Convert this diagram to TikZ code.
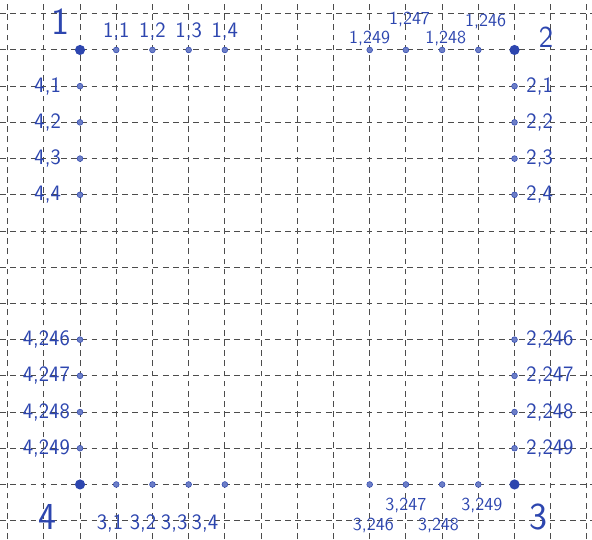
\documentclass[tikz,border=0pt]{standalone}
\usepackage{tikz}
\usetikzlibrary{positioning}
\definecolor{ink}{RGB}{45,70,175}

\begin{document}
\begin{tikzpicture}[
  gridline/.style={draw=black!70, line width=0.8pt, dash pattern=on 4.5pt off 3.5pt},
  corner/.style={circle, fill=ink, minimum size=2.8mm, inner sep=0pt},
  tick/.style={circle, draw=ink, fill=ink!70, minimum size=1.6mm, inner sep=0pt},
  lab/.style={text=ink, font={\sffamily\LARGE}, inner sep=1pt},
  smalllab/.style={text=ink, font={\sffamily\Large}, inner sep=1pt},
  biglab/.style={text=ink, font={\sffamily\fontsize{30}{32}\selectfont}, inner sep=0pt}
]
\useasboundingbox[fill=white] (-2.21,-13.51) rectangle (14.14,1.38);
\draw[gridline, step=1] (-2.21,-13.51) grid (14.14,1.38);
% corners
\node[corner] (c1) at (0,0) {};
\node[corner] (c2) at (12,0) {};
\node[corner] (c3) at (12,-12) {};
\node[corner] (c4) at (0,-12) {};
\node[biglab] at (-0.55,0.77) {1};
\node[biglab, font={\sffamily\fontsize{24}{26}\selectfont}] at (12.87,0.36) {2};
\node[biglab] at (12.65,-12.9) {3};
\node[biglab] at (-0.9,-12.9) {4};
% side 1
\node[tick] (p11) at (1,0) {};
\node[tick] (p12) at (2,0) {};
\node[tick] (p13) at (3,0) {};
\node[tick] (p14) at (4,0) {};
\node[lab, above=1.5mm of p11] {1,1};
\node[lab, above=1.5mm of p12] {1,2};
\node[lab, above=1.5mm of p13] {1,3};
\node[lab, above=1.5mm of p14] {1,4};
\node[tick] (p1249) at (8,0) {};
\node[tick] (p1247) at (9,0) {};
\node[tick] (p1248) at (10,0) {};
\node[tick] (p1246) at (11,0) {};
\node[smalllab] at (8.0,0.33) {1,249};
\node[smalllab] at (9.1,0.83) {1,247};
\node[smalllab] at (10.1,0.33) {1,248};
\node[smalllab] at (11.2,0.8) {1,246};
% side 2
\node[tick] (p21) at (12,-1) {};
\node[tick] (p22) at (12,-2) {};
\node[tick] (p23) at (12,-3) {};
\node[tick] (p24) at (12,-4) {};
\node[lab, right=2mm of p21] {2,1};
\node[lab, right=2mm of p22] {2,2};
\node[lab, right=2mm of p23] {2,3};
\node[lab, right=2mm of p24] {2,4};
\node[tick] (p2246) at (12,-8) {};
\node[tick] (p2247) at (12,-9) {};
\node[tick] (p2248) at (12,-10) {};
\node[tick] (p2249) at (12,-11) {};
\node[lab, right=2mm of p2246] {2,246};
\node[lab, right=2mm of p2247] {2,247};
\node[lab, right=2mm of p2248] {2,248};
\node[lab, right=2mm of p2249] {2,249};
% side 3
\node[tick] (p31) at (1,-12) {};
\node[tick] (p32) at (2,-12) {};
\node[tick] (p33) at (3,-12) {};
\node[tick] (p34) at (4,-12) {};
\node[lab] at (0.83,-13.07) {3,1};
\node[lab] at (1.74,-13.07) {3,2};
\node[lab] at (2.6,-13.07) {3,3};
\node[lab] at (3.45,-13.07) {3,4};
\node[tick] (p3246) at (8,-12) {};
\node[tick] (p3247) at (9,-12) {};
\node[tick] (p3248) at (10,-12) {};
\node[tick] (p3249) at (11,-12) {};
\node[smalllab] at (8.1,-13.12) {3,246};
\node[smalllab] at (9.0,-12.57) {3,247};
\node[smalllab] at (9.9,-13.12) {3,248};
\node[smalllab] at (11.1,-12.57) {3,249};
% side 4
\node[tick] (p41) at (0,-1) {};
\node[tick] (p42) at (0,-2) {};
\node[tick] (p43) at (0,-3) {};
\node[tick] (p44) at (0,-4) {};
\node[lab, left=4mm of p41] {4,1};
\node[lab, left=4mm of p42] {4,2};
\node[lab, left=4mm of p43] {4,3};
\node[lab, left=4mm of p44] {4,4};
\node[tick] (p4246) at (0,-8) {};
\node[tick] (p4247) at (0,-9) {};
\node[tick] (p4248) at (0,-10) {};
\node[tick] (p4249) at (0,-11) {};
\node[lab, left=1.5mm of p4246] {4,246};
\node[lab, left=1.5mm of p4247] {4,247};
\node[lab, left=1.5mm of p4248] {4,248};
\node[lab, left=1.5mm of p4249] {4,249};
\end{tikzpicture}
\end{document}
